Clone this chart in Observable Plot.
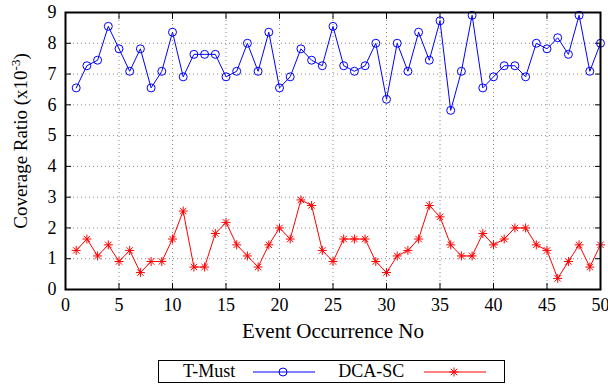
<!DOCTYPE html>
<html>
<head>
<meta charset="utf-8">
<script src="https://cdn.jsdelivr.net/npm/d3@7"></script>
<script src="https://cdn.jsdelivr.net/npm/@observablehq/plot@0.6"></script>
<style>
  body { margin: 0; background: white; font-family: "Liberation Serif", serif; }
  svg text { font-family: "Liberation Serif", serif; }
  #legend { margin-left: 158px; margin-top: 15px; width: 347px; height: 23px; border: 1px solid black; box-sizing: border-box;
            display: flex; align-items: center; font-size: 18px; color: black; }
</style>
</head>
<body>
<div id="chart"></div>
<div id="legend">
  <span style="margin-left:24px">T-Must</span>
  <svg width="64" height="14" style="margin-left:17px"><line x1="1" x2="63" y1="7" y2="7" stroke="#0000ff"/><circle cx="31" cy="7" r="4" fill="none" stroke="#0000ff"/></svg>
  <span style="margin-left:22px">DCA-SC</span>
  <svg width="64" height="14" style="margin-left:19px"><line x1="1" x2="63" y1="7" y2="7" stroke="#ff0000"/><path d="M26.5,7H35.5M31,2.5V11.5M27.8,3.8L34.2,10.2M27.8,10.2L34.2,3.8" stroke="#ff0000"/></svg>
</div>
<script>
const events = [1,2,3,4,5,6,7,8,9,10,11,12,13,14,15,16,17,18,19,20,21,22,23,24,25,26,27,28,29,30,31,32,33,34,35,36,37,38,39,40,41,42,43,44,45,46,47,48,49,50];
const tMust = [6.55,7.27,7.45,8.55,7.82,7.09,7.82,6.55,7.09,8.36,
               6.91,7.64,7.64,7.64,6.91,7.09,8.0,7.09,8.36,6.55,
               6.91,7.82,7.45,7.27,8.55,7.27,7.09,7.27,8.0,6.18,
               8.0,7.09,8.36,7.45,8.73,5.82,7.09,8.91,6.55,6.91,
               7.27,7.27,6.91,8.0,7.82,8.18,7.64,8.91,7.09,8.0];
const dcaSc = [1.27,1.64,1.09,1.45,0.91,1.27,0.55,0.91,0.91,1.64,
               2.55,0.73,0.73,1.82,2.18,1.45,1.09,0.73,1.45,2.0,
               1.64,2.91,2.73,1.27,0.91,1.64,1.64,1.64,0.91,0.55,
               1.09,1.27,1.64,2.73,2.36,1.45,1.09,1.09,1.82,1.45,
               1.64,2.0,2.0,1.45,1.27,0.36,0.91,1.45,0.73,1.45];
const xTicks = [0,5,10,15,20,25,30,35,40,45,50];
const yTicks = [0,1,2,3,4,5,6,7,8,9];
const xLabel = "Event Occurrence No";
const FONT = "Liberation Serif";

const starSymbol = {
  draw(ctx, size) {
    const r = Math.sqrt(size / Math.PI);
    const d = r * Math.SQRT1_2;
    ctx.moveTo(-r, 0); ctx.lineTo(r, 0);
    ctx.moveTo(0, -r); ctx.lineTo(0, r);
    ctx.moveTo(-d, -d); ctx.lineTo(d, d);
    ctx.moveTo(-d, d); ctx.lineTo(d, -d);
  }
};

const tData = events.map((e, i) => ({x: e, y: tMust[i]}));
const dData = events.map((e, i) => ({x: e, y: dcaSc[i]}));

const grid = {stroke: "#888", strokeOpacity: 1, strokeWidth: 1, strokeDasharray: "1,3"};

const chart = Plot.plot({
  width: 608, height: 345,
  marginLeft: 65, marginRight: 8, marginTop: 12, marginBottom: 56,
  style: {fontFamily: "'Liberation Serif', serif", fontSize: "18px", background: "white", color: "black"},
  x: {domain: [0, 50]},
  y: {domain: [0, 9]},
  marks: [
    Plot.gridX(xTicks.slice(1, -1), grid),
    Plot.gridY(yTicks.slice(1, -1), grid),
    Plot.axisX(xTicks, {anchor: "bottom", tickSize: 0, tickPadding: 9, label: null, fontSize: 18, fontFamily: FONT}),
    Plot.axisX(xTicks, {anchor: "bottom", tickSize: -6, tickFormat: () => "", label: null}),
    Plot.axisX(xTicks.slice(1, -1), {anchor: "top", tickSize: -6, tickFormat: () => "", label: null}),
    Plot.axisY(yTicks, {anchor: "left", tickSize: 0, tickPadding: 9, label: null, fontSize: 18, fontFamily: FONT}),
    Plot.axisY(yTicks.slice(1, -1), {anchor: "left", tickSize: -6, tickFormat: () => "", label: null}),
    Plot.axisY(yTicks.slice(1, -1), {anchor: "right", tickSize: -6, tickFormat: () => "", label: null}),
    Plot.line(tData, {x: "x", y: "y", stroke: "#0000ff", strokeWidth: 1}),
    Plot.dot(tData, {x: "x", y: "y", r: 4, stroke: "#0000ff", fill: "none", strokeWidth: 1}),
    Plot.line(dData, {x: "x", y: "y", stroke: "#ff0000", strokeWidth: 1}),
    Plot.dot(dData, {x: "x", y: "y", r: 4.5, symbol: starSymbol, stroke: "#ff0000", fill: "none", strokeWidth: 1}),
    Plot.frame({stroke: "black", strokeWidth: 2}),
    Plot.text([xLabel], {text: d => d, frameAnchor: "bottom", dy: 41.5, fontSize: 21, fontFamily: FONT, lineAnchor: "middle"})
  ]
});
document.getElementById("chart").appendChild(chart);

const svg = d3.select(chart);
const t = svg.append("text")
  .attr("transform", "translate(27,141) rotate(-90)")
  .attr("text-anchor", "middle")
  .attr("font-family", FONT)
  .attr("font-size", 19)
  .attr("fill", "black");
t.append("tspan").text("Coverage Ratio (x10");
t.append("tspan").attr("font-size", 13).attr("dy", -7).text("-3");
t.append("tspan").attr("dy", 7).text(")");
</script>
</body>
</html>
